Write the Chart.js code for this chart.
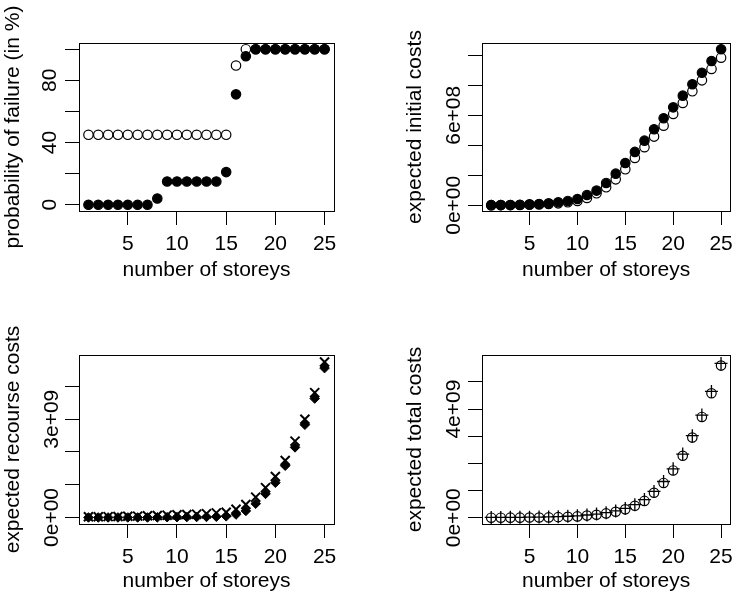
<!DOCTYPE html>
<html>
<head>
<meta charset="utf-8">
<title>Storeys</title>
<script src="https://cdn.jsdelivr.net/npm/chart.js@4.4.0/dist/chart.umd.min.js"></script>
<style>
  html, body { margin: 0; padding: 0; background: #fff; }
  #grid { position: relative; width: 740px; height: 592px; }
  .panel { position: absolute; width: 370px; height: 296px; }
</style>
</head>
<body>
<div id="grid">
  <div class="panel" style="left:0;top:0"><canvas id="failureChart" width="370" height="296"></canvas></div>
  <div class="panel" style="left:370px;top:0"><canvas id="initialChart" width="370" height="296"></canvas></div>
  <div class="panel" style="left:0;top:296px"><canvas id="recourseChart" width="370" height="296"></canvas></div>
  <div class="panel" style="left:370px;top:296px"><canvas id="totalChart" width="370" height="296"></canvas></div>
</div>
<script>
// number of storeys (x axis of every panel)
const storeys = [1, 2, 3, 4, 5, 6, 7, 8, 9, 10, 11, 12, 13, 14, 15, 16, 17, 18, 19, 20, 21, 22, 23, 24, 25];
const xTicks = [5, 10, 15, 20, 25];

// probability of failure (in %)
const failureFilled = [0, 0, 0, 0, 0, 0, 0, 4, 15, 15, 15, 15, 15, 15, 21, 71, 95.5, 100, 100, 100, 100, 100, 100, 100, 100];
const failureOpen = [45, 45, 45, 45, 45, 45, 45, 45, 45, 45, 45, 45, 45, 45, 45, 89.5, 100, 100, 100, 100, 100, 100, 100, 100, 100];
const failureTicks = [0, 20, 40, 60, 80, 100];
const failureTickLabels = ['0', '', '40', '', '80', ''];

// expected initial costs
const initialFilled = [1e6, 1.5e6, 2e6, 4e6, 7e6, 9e6, 13e6, 20e6, 29e6, 42e6, 69e6, 98e6, 149e6, 211e6, 282e6, 356e6, 431e6, 507e6, 580e6, 653e6, 731e6, 807e6, 884e6, 962e6, 1040e6];
const initialOpen = [1e6, 1.2e6, 1.5e6, 2.5e6, 4e6, 6e6, 9e6, 13e6, 20e6, 29e6, 49e6, 80e6, 120e6, 173e6, 240e6, 316e6, 387e6, 458e6, 531e6, 609e6, 682e6, 760e6, 833e6, 909e6, 984e6];
const initialTicks = [0, 2e8, 4e8, 6e8, 8e8, 1e9];
const initialTickLabels = ['0e+00', '', '', '6e+08', '', ''];

// expected recourse costs
const recourseDiamond = [0, 0, 0, 0, 0, 0, 0, 3e6, 8e6, 10e6, 12e6, 15e6, 18e6, 22e6, 35e6, 90e6, 200e6, 420e6, 720e6, 1060e6, 1580e6, 2140e6, 2830e6, 3630e6, 4560e6];
const recourseCross = [20e6, 22e6, 25e6, 30e6, 35e6, 40e6, 50e6, 60e6, 70e6, 80e6, 90e6, 100e6, 115e6, 140e6, 160e6, 250e6, 395e6, 620e6, 910e6, 1250e6, 1740e6, 2330e6, 3000e6, 3810e6, 4745e6];
const recourseTicks = [0, 1e9, 2e9, 3e9, 4e9];
const recourseTickLabels = ['0e+00', '', '', '3e+09', ''];

// expected total costs
const totalCircle = [1e6, 2e6, 3e6, 4e6, 7e6, 9e6, 13e6, 23e6, 37e6, 50e6, 80e6, 110e6, 160e6, 220e6, 310e6, 440e6, 620e6, 920e6, 1280e6, 1740e6, 2280e6, 2950e6, 3710e6, 4580e6, 5600e6];
const totalPlus = [12e6, 13e6, 15e6, 17e6, 20e6, 24e6, 30e6, 40e6, 55e6, 70e6, 102e6, 135e6, 188e6, 252e6, 345e6, 480e6, 668e6, 970e6, 1335e6, 1800e6, 2345e6, 3020e6, 3780e6, 4650e6, 5680e6];
const totalTicks = [0, 1e9, 2e9, 3e9, 4e9, 5e9];
const totalTickLabels = ['0e+00', '', '', '', '4e+09', ''];

const FONT_FAMILY = '"Liberation Sans", Arial, Helvetica, sans-serif';
const FONT_SIZE = 21;
const INK = '#000';

Chart.defaults.font.family = FONT_FAMILY;
Chart.defaults.font.size = FONT_SIZE;
Chart.defaults.color = INK;

// marker looks (R-like pch symbols)
const filledCircle = { pointStyle: 'circle', pointRadius: 4.7, pointBackgroundColor: INK, pointBorderColor: INK, pointBorderWidth: 1.2 };
const openCircle = { pointStyle: 'circle', pointRadius: 4.7, pointBackgroundColor: 'rgba(0,0,0,0)', pointBorderColor: INK, pointBorderWidth: 1.2 };
const diamond = { pointStyle: 'rectRot', pointRadius: 4.8, pointBackgroundColor: INK, pointBorderColor: INK, pointBorderWidth: 1 };
const xCross = { pointStyle: 'crossRot', pointRadius: 6.4, pointBorderColor: INK, pointBorderWidth: 2 };
const plus = { pointStyle: 'cross', pointRadius: 6.5, pointBorderColor: INK, pointBorderWidth: 1.3 };

function series(values, style) {
    const ds = { data: storeys.map((s, i) => ({ x: s, y: values[i] })), clip: false };
    Object.assign(ds, style);
    ds.pointHoverRadius = style.pointRadius;
    return ds;
}

// frame around the plotting region, drawn over the points like R's box()
const plotBox = {
    id: 'plotBox',
    afterDatasetsDraw(chart) {
        const { ctx, chartArea: a } = chart;
        ctx.save();
        ctx.strokeStyle = INK;
        ctx.lineWidth = 1;
        ctx.strokeRect(Math.round(a.left) + 0.5, Math.round(a.top) + 0.5, Math.round(a.right - a.left), Math.round(a.bottom - a.top));
        ctx.restore();
    }
};

// y tick labels written parallel to the axis (bottom to top)
const rotatedYLabels = {
    id: 'rotatedYLabels',
    afterDraw(chart, args, opts) {
        const scale = chart.scales.y;
        const ctx = chart.ctx;
        ctx.save();
        ctx.font = FONT_SIZE + 'px ' + FONT_FAMILY;
        ctx.fillStyle = INK;
        ctx.textAlign = 'center';
        ctx.textBaseline = 'alphabetic';
        scale.ticks.forEach(t => {
            if (!t.label) return;
            ctx.save();
            ctx.translate(chart.chartArea.left - opts.offset, scale.getPixelForValue(t.value));
            ctx.rotate(-Math.PI / 2);
            ctx.fillText(t.label, 0, 0);
            ctx.restore();
        });
        ctx.restore();
    }
};

function makePanel(canvasId, p) {
    const tickFor = (ticks, labels) => value => {
        const i = ticks.indexOf(value);
        return i >= 0 ? labels[i] : '';
    };
    return new Chart(document.getElementById(canvasId), {
        type: 'scatter',
        data: { datasets: p.datasets },
        plugins: [plotBox, rotatedYLabels],
        options: {
            responsive: false,
            animation: false,
            events: [],
            layout: { padding: { left: 0, top: p.area.top, right: 370 - p.area.right, bottom: 0 } },
            plugins: {
                legend: { display: false },
                tooltip: { enabled: false },
                rotatedYLabels: { offset: p.labelOffset }
            },
            scales: {
                x: {
                    type: 'linear',
                    min: 0.04,
                    max: 25.96,
                    afterBuildTicks: s => { s.ticks = xTicks.map(v => ({ value: v })); },
                    afterFit: s => { s.height = 296 - p.area.bottom; },
                    grid: { drawOnChartArea: false, drawTicks: true, tickLength: 14, color: INK, lineWidth: 1 },
                    border: { display: false },
                    ticks: { padding: 7, maxRotation: 0, autoSkip: false, callback: v => String(v) },
                    title: { display: true, text: 'number of storeys', padding: { top: 0, bottom: p.xTitlePad }, font: { size: FONT_SIZE, lineHeight: 1 } }
                },
                y: {
                    type: 'linear',
                    min: p.yMin,
                    max: p.yMax,
                    afterBuildTicks: s => { s.ticks = p.yTicks.map(v => ({ value: v })); },
                    afterFit: s => { s.width = p.area.left; },
                    grid: { drawOnChartArea: false, drawTicks: true, tickLength: 14, color: INK, lineWidth: 1 },
                    border: { display: false },
                    ticks: { display: false, callback: tickFor(p.yTicks, p.yTickLabels) },
                    title: { display: true, text: p.yTitle, padding: { top: p.yTitlePad, bottom: 0 }, font: { size: FONT_SIZE, lineHeight: 1 } }
                }
            }
        }
    });
}

makePanel('failureChart', {
    area: { left: 79, right: 334, top: 43, bottom: 211 },
    yMin: -4, yMax: 104,
    yTicks: failureTicks, yTickLabels: failureTickLabels,
    yTitle: 'probability of failure (in %)', yTitlePad: 3, labelOffset: 23.5, xTitlePad: 15.5,
    datasets: [series(failureFilled, filledCircle), series(failureOpen, openCircle)]
});

makePanel('initialChart', {
    area: { left: 112, right: 365, top: 43, bottom: 211 },
    yMin: -0.038e9, yMax: 1.082e9,
    yTicks: initialTicks, yTickLabels: initialTickLabels,
    yTitle: 'expected initial costs', yTitlePad: 34.5, labelOffset: 22.5, xTitlePad: 15.5,
    datasets: [series(initialFilled, filledCircle), series(initialOpen, openCircle)]
});

makePanel('recourseChart', {
    area: { left: 79, right: 334, top: 59, bottom: 228 },
    yMin: -0.2e9, yMax: 4.96e9,
    yTicks: recourseTicks, yTickLabels: recourseTickLabels,
    yTitle: 'expected recourse costs', yTitlePad: 3, labelOffset: 21.5, xTitlePad: 0.5,
    datasets: [series(recourseDiamond, diamond), series(recourseCross, xCross)]
});

makePanel('totalChart', {
    area: { left: 112, right: 365, top: 59, bottom: 228 },
    yMin: -0.23e9, yMax: 5.99e9,
    yTicks: totalTicks, yTickLabels: totalTickLabels,
    yTitle: 'expected total costs', yTitlePad: 35, labelOffset: 22.5, xTitlePad: 0.5,
    datasets: [series(totalPlus, plus), series(totalCircle, openCircle)]
});
</script>
</body>
</html>
